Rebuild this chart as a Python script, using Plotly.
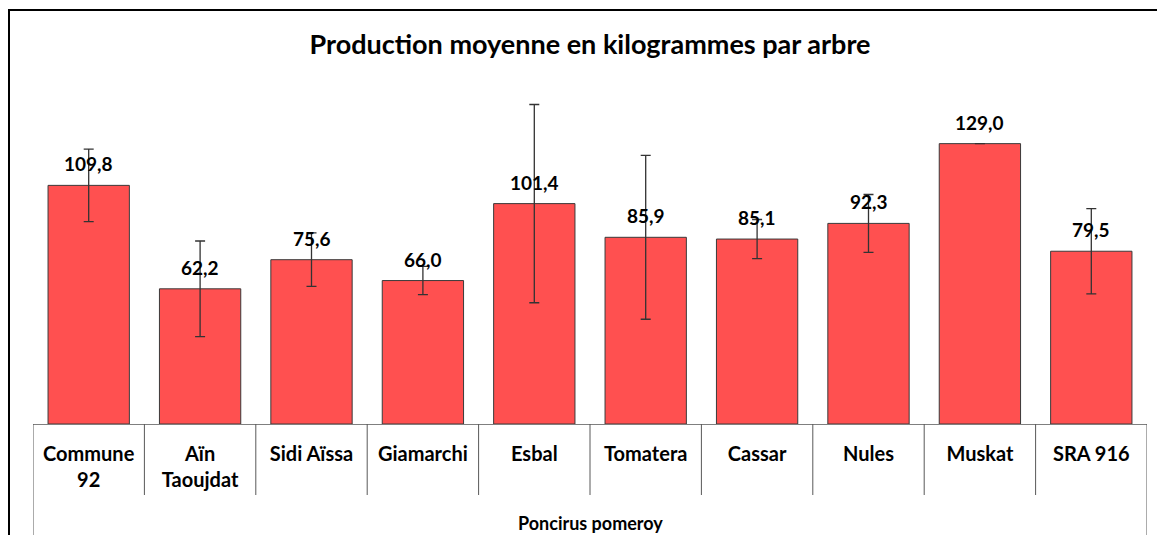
import plotly.graph_objects as go

# Données
varietes = ["Commune<br>92", "Aïn<br>Taoujdat", "Sidi Aïssa", "Giamarchi", "Esbal",
            "Tomatera", "Cassar", "Nules", "Muskat", "SRA 916"]
production = [109.8, 62.2, 75.6, 66.0, 101.4, 85.9, 85.1, 92.3, 129.0, 79.5]
ecart_type = [16.7, 22.0, 12.3, 6.5, 45.6, 37.7, 9.0, 13.3, 0.0, 19.6]
groupe = "Poncirus pomeroy"
titre = "Production moyenne en kilogrammes par arbre"

FONT = "Lato"
W, H = 1165, 535
OFF = 8  # marge du body de la page html
# zone de tracé en pixels (coordonnées de l'image de référence)
L, R, T, B = 33 - OFF, 1147 - OFF, 98 - OFF, 424 - OFF
pw, ph = R - L, B - T

def px_x(x):
    return (x - OFF - L) / pw

def px_y(y):
    return (B - (y - OFF)) / ph

fig = go.Figure()
fig.add_trace(go.Bar(
    x=varietes, y=production,
    marker=dict(color="#FF5050", line=dict(color="#3a3a3a", width=1)),
    error_y=dict(type="data", array=ecart_type, visible=True,
                 color="#333333", thickness=1.3, width=5),
    hoverinfo="x+y",
))

# étiquettes de données
for v, p in zip(varietes, production):
    fig.add_annotation(x=v, y=p, yref="y", text=f"{p:.1f}".replace(".", ","),
                       showarrow=False, yanchor="bottom", yshift=8,
                       font=dict(family=FONT, size=19, color="black", weight="bold"))

shapes = []
# séparateurs des catégories
n = len(varietes)
for i in range(n + 1):
    edge = i in (0, n)
    shapes.append(dict(type="line", xref="x", yref="paper",
                       x0=i - 0.5, x1=i - 0.5,
                       y0=px_y(560) if edge else px_y(495), y1=0,
                       line=dict(color="#595959", width=1)))
# cadre du graphique
shapes.append(dict(type="rect", xref="paper", yref="paper",
                   x0=px_x(9), x1=px_x(1190), y0=px_y(560), y1=px_y(10),
                   line=dict(color="black", width=2)))

fig.add_annotation(xref="paper", yref="paper", x=0.5, y=px_y(523), text=groupe,
                   showarrow=False, yanchor="middle",
                   font=dict(family=FONT, size=18, color="black", weight="bold"))

fig.update_layout(
    width=W, height=H,
    margin=dict(l=L, r=W - R, t=T, b=H - B),
    paper_bgcolor="white", plot_bgcolor="white",
    title=dict(text=titre, x=0.5, xref="paper", xanchor="center",
               y=1 - (45 - OFF) / H, yanchor="middle",
               font=dict(family=FONT, size=27, color="black", weight="bold")),
    bargap=0.27,
    showlegend=False,
    shapes=shapes,
    xaxis=dict(range=[-0.5, n - 0.5], showline=True, linecolor="#7f7f7f", linewidth=1,
               ticks="", ticklabelstandoff=12, showgrid=False,
               tickfont=dict(family=FONT, size=20, color="black", weight="bold")),
    yaxis=dict(range=[0, 150], visible=False, showgrid=False, zeroline=False),
)

fig.write_html("out.html")
